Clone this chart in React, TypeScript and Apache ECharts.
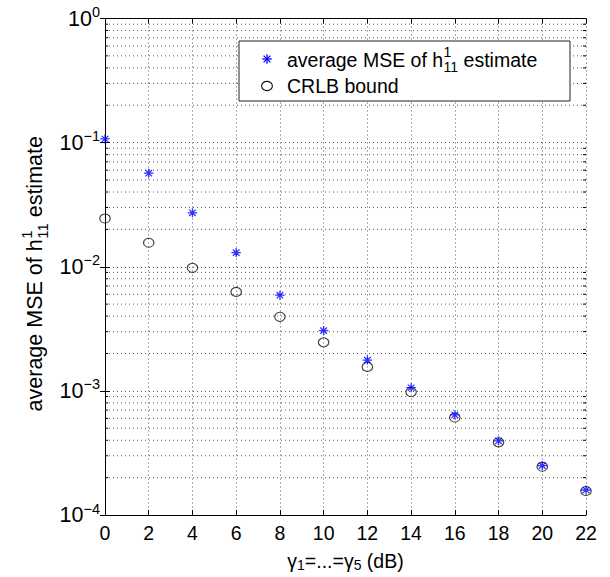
import React, { useEffect, useRef } from 'react';
import * as echarts from 'echarts';

// ---- data ----
const snrDb = [0, 2, 4, 6, 8, 10, 12, 14, 16, 18, 20, 22];
const mseEstimate = [0.107, 0.0567, 0.0272, 0.013, 0.0059, 0.00306, 0.00177, 0.00106, 0.00064, 0.000395, 0.00025, 0.000159];
const crlbBound = [0.0245, 0.0156, 0.0098, 0.00627, 0.00395, 0.00246, 0.00156, 0.00098, 0.00061, 0.000385, 0.000245, 0.000156];
const minorDecades = [1e-4, 1e-3, 1e-2, 1e-1];
const minorMultipliers = [2, 3, 4, 5, 6, 7, 8, 9];

const FONT = 'Liberation Sans';
const INK = '#000000';
const GRID = '#5a5a5a';

function measure(text: string, size: number): number {
  const ctx = document.createElement('canvas').getContext('2d');
  if (!ctx) return text.length * size * 0.55;
  ctx.font = `${size}px "${FONT}"`;
  return ctx.measureText(text).width;
}

function stackedLabel(
  pre: string, sup: string, sub: string, post: string,
  size: number, small: number, supDy: number, subDy: number, z: number
) {
  const w1 = measure(pre, size);
  const ws = Math.max(measure(sup, small), measure(sub, small));
  const w3 = measure(post, size);
  const total = w1 + ws + w3;
  const mk = (text: string, x: number, y: number, fs: number) => ({
    type: 'text', x, y, z,
    style: { text, font: `${fs}px "${FONT}"`, fill: INK, align: 'left', verticalAlign: 'middle', lineHeight: fs },
  });
  return {
    total,
    children: [
      mk(pre, 0, 0, size),
      mk(sup, w1 + 0.5, supDy, small),
      mk(sub, w1 + 0.5, subDy, small),
      mk(post, w1 + ws + 0.5, 0, size),
    ],
  };
}

export default function App() {
  const ref = useRef<HTMLDivElement>(null);

  useEffect(() => {
    if (!ref.current) return;
    const chart = echarts.init(ref.current, null, { renderer: 'svg' });

    const minorValues: number[][] = [];
    minorDecades.forEach((d) => minorMultipliers.forEach((m) => minorValues.push([0, d * m])));

    const yTitle = stackedLabel('average MSE of h', '1', '11', ' estimate', 21.5, 15, -8.5, 7, 50);
    const legendText = stackedLabel('average MSE of h', '1', '11', ' estimate', 19.5, 14, -8, 6.5, 102);

    const gridLeft = 105, gridRight = 24, gridTop = 18.5, gridBottom = 52.5;

    const option: any = {
      animation: false,
      backgroundColor: '#ffffff',
      grid: { left: gridLeft, right: gridRight, top: gridTop, bottom: gridBottom, containLabel: false },
      xAxis: [
        {
          type: 'value', min: 0, max: 22, interval: 2, position: 'bottom',
          axisLine: { show: true, lineStyle: { color: INK, width: 1 } },
          axisTick: { show: true, inside: true, length: 5, lineStyle: { color: INK } },
          axisLabel: { color: INK, fontFamily: FONT, fontSize: 19.5, margin: 8 },
          splitLine: { show: true, lineStyle: { color: GRID, width: 1, type: [1, 3] } },
          name: '{g|γ}{s|1}{g|=...=γ}{s|5}{g| (dB)}',
          nameLocation: 'middle', nameGap: 35,
          nameTextStyle: {
            color: INK, fontFamily: FONT,
            rich: {
              g: { fontSize: 19.5, fontFamily: FONT, color: INK, lineHeight: 22 },
              s: { fontSize: 14, fontFamily: FONT, color: INK, lineHeight: 14, verticalAlign: 'bottom' },
            },
          },
        },
        {
          type: 'value', min: 0, max: 22, interval: 2, position: 'top',
          axisLine: { show: true, lineStyle: { color: INK, width: 1 } },
          axisTick: { show: true, inside: true, length: 5, lineStyle: { color: INK } },
          axisLabel: { show: false },
          splitLine: { show: false },
        },
      ],
      yAxis: [
        {
          type: 'log', logBase: 10, min: 1e-4, max: 1, position: 'left',
          axisLine: { show: true, lineStyle: { color: INK, width: 1 } },
          axisTick: { show: true, inside: true, length: 5, lineStyle: { color: INK } },
          axisLabel: {
            color: INK, margin: 5,
            formatter: (v: number) => {
              const e = Math.round(Math.log10(v));
              return `{b|10}{e|${e < 0 ? '−' + Math.abs(e) : e}}`;
            },
            rich: {
              b: { fontSize: 21.5, fontFamily: FONT, color: INK, lineHeight: 28 },
              e: { fontSize: 14.5, fontFamily: FONT, color: INK, lineHeight: 14, verticalAlign: 'top' },
            },
          },
          splitLine: { show: true, lineStyle: { color: GRID, width: 1, type: [1, 3] } },
        },
        {
          type: 'log', logBase: 10, min: 1e-4, max: 1, position: 'right',
          axisLine: { show: true, lineStyle: { color: INK, width: 1 } },
          axisTick: { show: true, inside: true, length: 5, lineStyle: { color: INK } },
          axisLabel: { show: false },
          splitLine: { show: false },
        },
      ],
      series: [
        {
          type: 'custom',
          xAxisIndex: 0, yAxisIndex: 0,
          silent: true, clip: false, z: 1,
          data: minorValues,
          renderItem: (params: any, api: any) => {
            const v = api.value(1);
            const a = api.coord([0, v]);
            const b = api.coord([22, v]);
            return {
              type: 'group',
              children: [
                { type: 'line', shape: { x1: a[0], y1: a[1], x2: b[0], y2: b[1] }, style: { stroke: GRID, lineWidth: 1, lineDash: [1, 3] } },
                { type: 'line', shape: { x1: a[0], y1: a[1], x2: a[0] + 3, y2: a[1] }, style: { stroke: INK, lineWidth: 1 } },
                { type: 'line', shape: { x1: b[0] - 3, y1: b[1], x2: b[0], y2: b[1] }, style: { stroke: INK, lineWidth: 1 } },
              ],
            };
          },
        },
        {
          name: 'CRLB bound', type: 'scatter', z: 3,
          symbol: 'circle', symbolSize: [10.5, 9],
          itemStyle: { color: 'transparent', borderColor: '#111111', borderWidth: 1.1 },
          data: snrDb.map((x, i) => [x, crlbBound[i]]),
        },
        {
          name: 'average MSE of h estimate', type: 'scatter', z: 4,
          symbol: 'path://M0 -10 L0 10 M-10 0 L10 0 M-7 -7 L7 7 M-7 7 L7 -7',
          symbolSize: [9.5, 9],
          itemStyle: { color: 'transparent', borderColor: '#0000ff', borderWidth: 1.3 },
          data: snrDb.map((x, i) => [x, mseEstimate[i]]),
        },
      ],
      graphic: [
        {
          type: 'group', x: 35, y: 274, rotation: Math.PI / 2,
          children: yTitle.children.map((c: any) => ({ ...c, x: c.x - yTitle.total / 2 })),
        },
        {
          type: 'rect', z: 100, shape: { x: 239, y: 41, width: 331, height: 60 },
          style: { fill: '#ffffff', stroke: '#222222', lineWidth: 1 },
        },
        {
          type: 'group', x: 267, y: 59, z: 101,
          children: [
            { type: 'line', z: 101, shape: { x1: 0, y1: -4.8, x2: 0, y2: 4.8 }, style: { stroke: '#0000ff', lineWidth: 1.3 } },
            { type: 'line', z: 101, shape: { x1: -4.8, y1: 0, x2: 4.8, y2: 0 }, style: { stroke: '#0000ff', lineWidth: 1.3 } },
            { type: 'line', z: 101, shape: { x1: -3.4, y1: -3.4, x2: 3.4, y2: 3.4 }, style: { stroke: '#0000ff', lineWidth: 1.3 } },
            { type: 'line', z: 101, shape: { x1: -3.4, y1: 3.4, x2: 3.4, y2: -3.4 }, style: { stroke: '#0000ff', lineWidth: 1.3 } },
          ],
        },
        {
          type: 'group', x: 287, y: 60, z: 101,
          children: legendText.children,
        },
        {
          type: 'ellipse', z: 101, shape: { cx: 267, cy: 86, rx: 5.4, ry: 4.6 },
          style: { fill: 'transparent', stroke: '#111111', lineWidth: 1.1 },
        },
        {
          type: 'text', z: 101, x: 287, y: 86,
          style: { text: 'CRLB bound', font: `19.5px "${FONT}"`, fill: INK, align: 'left', verticalAlign: 'middle' },
        },
      ],
    };

    chart.setOption(option);
    return () => chart.dispose();
  }, []);

  return (
    <div
      ref={ref}
      style={{ position: 'absolute', left: 0, top: 0, width: 610, height: 577, background: '#fff' }}
    />
  );
}
